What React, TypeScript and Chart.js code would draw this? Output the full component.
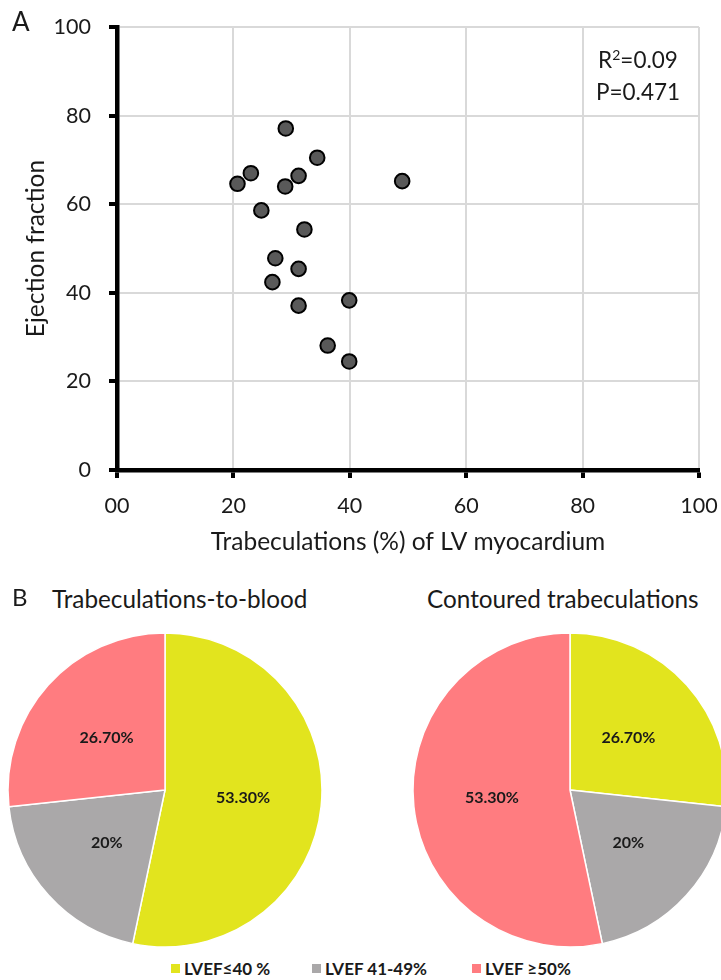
import React, { useEffect, useRef } from 'react';
import { Chart, registerables } from 'chart.js';

Chart.register(...registerables);

// ---- Panel A data ----
const trabeculationPct = [29.0, 34.4, 23.0, 20.7, 31.2, 28.9, 49.0, 24.8, 32.2, 27.2, 31.2, 26.7, 31.2, 39.9, 36.2, 39.9];
const ejectionFraction = [77.1, 70.5, 67.0, 64.6, 66.4, 64.0, 65.2, 58.6, 54.3, 47.8, 45.4, 42.4, 37.1, 38.3, 28.1, 24.5];
const xTickValues = [0, 20, 40, 60, 80, 100];
const xTickLabels = ['00', '20', '40', '60', '80', '100'];
const xTitle = 'Trabeculations (%) of LV myocardium';
const yTitle = 'Ejection fraction';
const statR2 = '0.09';
const statP = '0.471';

// ---- Panel B data ----
const lvefCategories = ['LVEF≤40 %', 'LVEF 41-49%', 'LVEF ≥50%'];
const trabToBloodShares = [53.3, 20, 26.7];
const contouredShares = [26.7, 20, 53.3];
const categoryColors = ['#E2E41E', '#AAA8A9', '#FF7C80'];
const pieTitles = ['Trabeculations-to-blood', 'Contoured trabeculations'];

const FONT = 'Lato, "Open Sans", sans-serif';
const TEXT = '#1a1a1a';

const fmtPct = (v: number) => (Number.isInteger(v) ? `${v}%` : `${v.toFixed(2)}%`);

const pieLabelPlugin = {
  id: 'pieLabels',
  afterDatasetsDraw(chart: any) {
    const ctx = chart.ctx;
    const ds = chart.data.datasets[0];
    const meta = chart.getDatasetMeta(0);
    ctx.save();
    ctx.font = `bold 16px ${FONT}`;
    ctx.fillStyle = TEXT;
    ctx.textAlign = 'center';
    ctx.textBaseline = 'middle';
    meta.data.forEach((arc: any, i: number) => {
      const p = arc.tooltipPosition(false);
      ctx.fillText(fmtPct(ds.data[i]), p.x, p.y);
    });
    ctx.restore();
  },
};

function ScatterPanel() {
  const ref = useRef<HTMLCanvasElement>(null);
  useEffect(() => {
    if (!ref.current) return;
    const chart = new Chart(ref.current, {
      type: 'scatter',
      data: {
        datasets: [
          {
            data: trabeculationPct.map((x, i) => ({ x, y: ejectionFraction[i] })),
            backgroundColor: '#595959',
            borderColor: '#000000',
            borderWidth: 2,
            pointRadius: 7.3,
          },
        ],
      },
      options: {
        animation: false,
        responsive: false,
        layout: { padding: { left: 0, top: 27, right: 22, bottom: 0 } },
        plugins: { legend: { display: false }, tooltip: { enabled: false } },
        scales: {
          x: {
            type: 'linear',
            min: 0,
            max: 100,
            afterFit: (s: any) => {
              s.height = 90;
              s.paddingLeft = 0;
              s.paddingRight = 0;
            },
            ticks: {
              stepSize: 20,
              autoSkip: false,
              maxRotation: 0,
              padding: 15,
              color: TEXT,
              font: { family: FONT, size: 21.5 },
              callback: (v: any) => {
                const i = xTickValues.indexOf(Number(v));
                return i >= 0 ? xTickLabels[i] : '';
              },
            },
            grid: { color: '#d9d9d9', lineWidth: 2, tickColor: '#000', tickWidth: 4, tickLength: 8 },
            border: { color: '#000', width: 4.5 },
            title: {
              display: true,
              text: xTitle,
              color: TEXT,
              font: { family: FONT, size: 24.5 },
              padding: { top: 0, bottom: 3 },
            },
          },
          y: {
            type: 'linear',
            min: 0,
            max: 100,
            afterFit: (s: any) => {
              s.width = 117;
              s.paddingTop = 0;
              s.paddingBottom = 0;
            },
            ticks: {
              stepSize: 20,
              padding: 18,
              color: TEXT,
              font: { family: FONT, size: 21.5 },
            },
            grid: { color: '#d9d9d9', lineWidth: 2, tickColor: '#000', tickWidth: 4, tickLength: 8 },
            border: { color: '#000', width: 4.5 },
            title: {
              display: true,
              text: yTitle,
              color: TEXT,
              font: { family: FONT, size: 24.5 },
              padding: { top: 21, bottom: 0 },
            },
          },
        },
      } as any,
    });
    return () => chart.destroy();
  }, []);
  return (
    <canvas
      ref={ref}
      width={721}
      height={560}
      style={{ position: 'absolute', left: 0, top: 0, width: 721, height: 560 }}
    />
  );
}

function PiePanel({ values, left }: { values: number[]; left: number }) {
  const ref = useRef<HTMLCanvasElement>(null);
  useEffect(() => {
    if (!ref.current) return;
    const chart = new Chart(ref.current, {
      type: 'pie',
      data: {
        labels: lvefCategories,
        datasets: [
          {
            data: values,
            backgroundColor: categoryColors,
            borderColor: '#ffffff',
            borderWidth: 1.5,
          },
        ],
      },
      options: {
        animation: false,
        responsive: false,
        radius: 157,
        layout: { padding: 0 },
        plugins: { legend: { display: false }, tooltip: { enabled: false } },
      } as any,
      plugins: [pieLabelPlugin],
    });
    return () => chart.destroy();
  }, [values]);
  return (
    <canvas
      ref={ref}
      width={330}
      height={330}
      style={{ position: 'absolute', left, top: 625, width: 330, height: 330 }}
    />
  );
}

const legendLeft = [171, 312, 472];

export default function App() {
  return (
    <div
      style={{
        position: 'absolute',
        left: 0,
        top: 0,
        width: 721,
        height: 980,
        overflow: 'hidden',
        background: '#fff',
        fontFamily: FONT,
        color: TEXT,
      }}
    >
      <ScatterPanel />
      <div style={{ position: 'absolute', left: 12, top: 4, fontSize: 26, lineHeight: '34px' }}>A</div>
      <div
        style={{
          position: 'absolute',
          left: 583,
          top: 44,
          width: 110,
          textAlign: 'center',
          fontSize: 22.5,
          lineHeight: '32px',
        }}
      >
        <div>
          R<sup style={{ fontSize: 14, lineHeight: 0, verticalAlign: 'super' }}>2</sup>={statR2}
        </div>
        <div>P={statP}</div>
      </div>

      <div style={{ position: 'absolute', left: 12, top: 582, fontSize: 24, lineHeight: '30px' }}>B</div>
      <div style={{ position: 'absolute', left: 52, top: 584, fontSize: 24.3, lineHeight: '30px', whiteSpace: 'nowrap' }}>
        {pieTitles[0]}
      </div>
      <div style={{ position: 'absolute', left: 427, top: 584, fontSize: 24.3, lineHeight: '30px', whiteSpace: 'nowrap' }}>
        {pieTitles[1]}
      </div>

      <PiePanel values={trabToBloodShares} left={0} />
      <PiePanel values={contouredShares} left={405} />

      {lvefCategories.map((c, i) => (
        <div
          key={c}
          style={{
            position: 'absolute',
            left: legendLeft[i],
            top: 956,
            height: 24,
            display: 'flex',
            alignItems: 'center',
            whiteSpace: 'nowrap',
            fontWeight: 'bold',
            fontSize: 17,
          }}
        >
          <span style={{ display: 'inline-block', width: 9, height: 9, background: categoryColors[i], marginRight: 4 }} />
          <span>{c}</span>
        </div>
      ))}
    </div>
  );
}
